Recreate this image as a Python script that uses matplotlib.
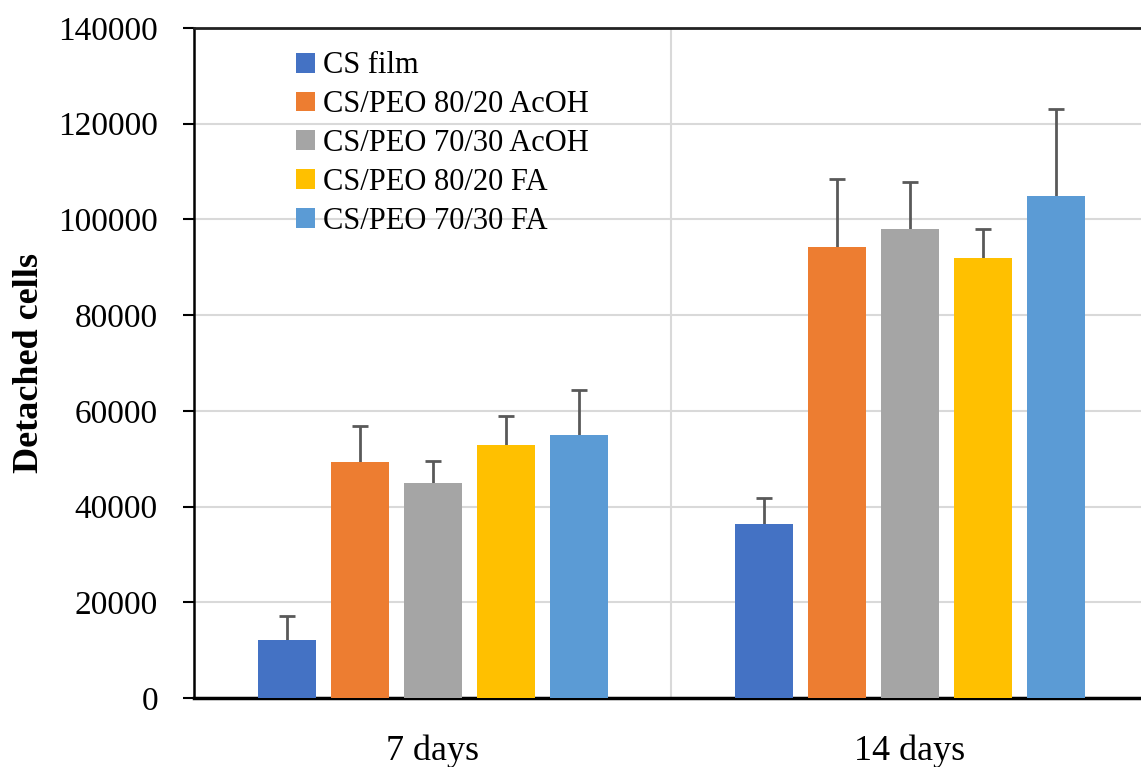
import matplotlib
matplotlib.use("Agg")
import matplotlib.pyplot as plt
import numpy as np

categories = ["7 days", "14 days"]
series = ["CS film", "CS/PEO 80/20 AcOH", "CS/PEO 70/30 AcOH", "CS/PEO 80/20 FA", "CS/PEO 70/30 FA"]
values = [
    [12200, 36400],
    [49300, 94300],
    [44900, 98000],
    [52900, 92000],
    [55000, 104900],
]
errors = [
    [5000, 5300],
    [7500, 14200],
    [4600, 9800],
    [6100, 6000],
    [9400, 18100],
]
colors = ["#4472C4", "#ED7D31", "#A5A5A5", "#FFC000", "#5B9BD5"]
yticks = [0, 20000, 40000, 60000, 80000, 100000, 120000, 140000]

plt.rcParams['font.family'] = ['Liberation Serif', 'DejaVu Serif']

W, H = 1141, 767
fig = plt.figure(figsize=(W / 100, H / 100), dpi=100)
left = 194 / W
right_px = 1148.5
bottom = 1 - 698 / H
top = 1 - 28 / H
ax = fig.add_axes([left, bottom, (right_px - 194) / W, top - bottom])

x = np.arange(len(categories))
pitch = 0.153
width = 0.1216
n = len(series)
for i, (s, v, e, c) in enumerate(zip(series, values, errors, colors)):
    off = (i - (n - 1) / 2) * pitch
    ax.bar(x + off, v, width, color=c, label=s, zorder=4)
    eb = ax.errorbar(x + off, v, yerr=[np.zeros(len(e)), e], fmt='none',
                     ecolor="#595959", elinewidth=2, capsize=6, capthick=2, zorder=3)
    caps = eb.lines[1]
    if len(caps) == 2:
        caps[0].set_visible(False)

ax.set_xlim(-0.5, 1.5)
ax.set_ylim(0, 140000)
ax.set_yticks(yticks)
ax.set_yticklabels([str(t) for t in yticks], fontsize=24)
ax.set_xticks(x)
ax.set_xticklabels(categories, fontsize=26)
ax.tick_params(axis='x', length=0, pad=26)
ax.tick_params(axis='y', direction='out', length=8, width=1.5, pad=18)

ax.yaxis.grid(True, color="#D9D9D9", linewidth=1.5, zorder=0)
ax.set_axisbelow(True)
ax.axvline(0.5, color="#D9D9D9", linewidth=1.5, zorder=0)

ax.spines['right'].set_visible(False)
ax.spines['top'].set_color("#222222")
ax.spines['top'].set_linewidth(2)
ax.spines['left'].set_linewidth(1.8)
ax.spines['bottom'].set_linewidth(2.5)

ax.set_ylabel("Detached cells", fontsize=26, fontweight='bold', labelpad=9)

leg = ax.legend(loc='upper left', bbox_to_anchor=(0.107, 0.965), frameon=False,
                fontsize=22, handlelength=0.62, handleheight=0.62,
                handletextpad=0.25, labelspacing=0.32, borderpad=0, borderaxespad=0)

fig.savefig("out.png", dpi=100)
